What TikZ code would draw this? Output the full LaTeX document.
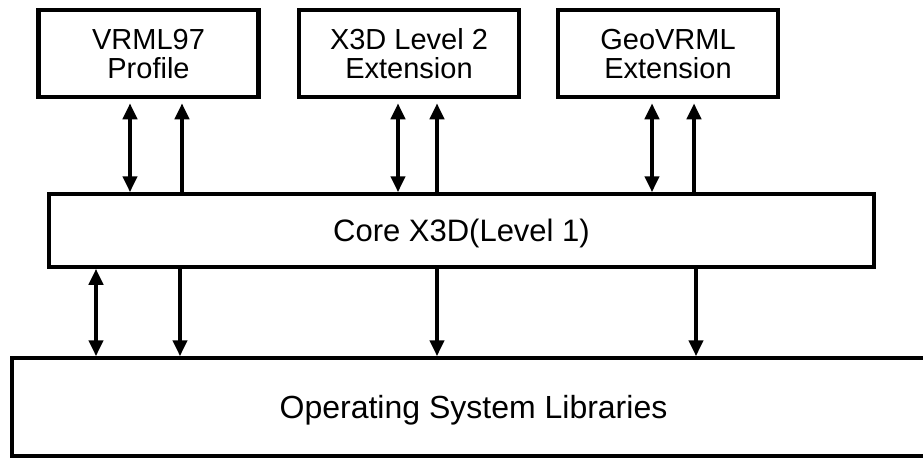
\documentclass[tikz,border=0pt]{standalone}
\usepackage{fontspec}
\setmainfont{Liberation Sans}
\usetikzlibrary{arrows.meta}
\tikzset{
	layer/.style={draw, line width=3.5pt, inner sep=0pt, align=center, font=\fontsize{31}{30}\selectfont, text height=22pt, text depth=0pt},
	twoline/.style={layer, line width=4.5pt, font=\fontsize{29}{29}\selectfont, text height=50pt, minimum width=220pt, minimum height=87pt},
	dblarrow/.style={{Triangle[length=16pt,width=14pt]}-{Triangle[length=16pt,width=14pt]}, line width=4pt},
	sglarrow/.style={-{Triangle[length=16pt,width=14pt]}, line width=4pt},
}
\begin{document}
\begin{tikzpicture}[x=1pt,y=-1pt]
		\useasboundingbox (0,0) rectangle (923,459);
		\node[twoline] (vrml) at (148.5,53.5) {VRML97\\Profile};
		\node[twoline] (level2) at (409,53.5) {X3D Level 2\\Extension};
		\node[twoline] (geo) at (668,53.5) {GeoVRML\\Extension};
		\node[layer, minimum width=825pt, minimum height=73pt] (core) at (461.5,230.5) {Core X3D(Level 1)};
		\node[layer, minimum width=923pt, minimum height=98pt, font=\fontsize{32}{30}\selectfont] (os) at (473.5,407) {Operating System Libraries};
		\foreach \n/\x in {a/130,b/182,c/398,d/437,e/652,f/694,g/96,h/180,i/437,j/696}
			\coordinate (x\n) at (\x,0);
		\draw[dblarrow, shorten <=4pt] (vrml.south -| xa) -- (core.north -| xa);
		\draw[sglarrow, shorten >=4pt] (core.north -| xb) -- (vrml.south -| xb);
		\draw[dblarrow, shorten <=4pt] (level2.south -| xc) -- (core.north -| xc);
		\draw[sglarrow, shorten >=4pt] (core.north -| xd) -- (level2.south -| xd);
		\draw[dblarrow, shorten <=4pt] (geo.south -| xe) -- (core.north -| xe);
		\draw[sglarrow, shorten >=4pt] (core.north -| xf) -- (geo.south -| xf);
		\draw[dblarrow] (core.south -| xg) -- (os.north -| xg);
		\draw[sglarrow] (core.south -| xh) -- (os.north -| xh);
		\draw[sglarrow] (core.south -| xi) -- (os.north -| xi);
		\draw[sglarrow] (core.south -| xj) -- (os.north -| xj);
	\end{tikzpicture}
\end{document}
